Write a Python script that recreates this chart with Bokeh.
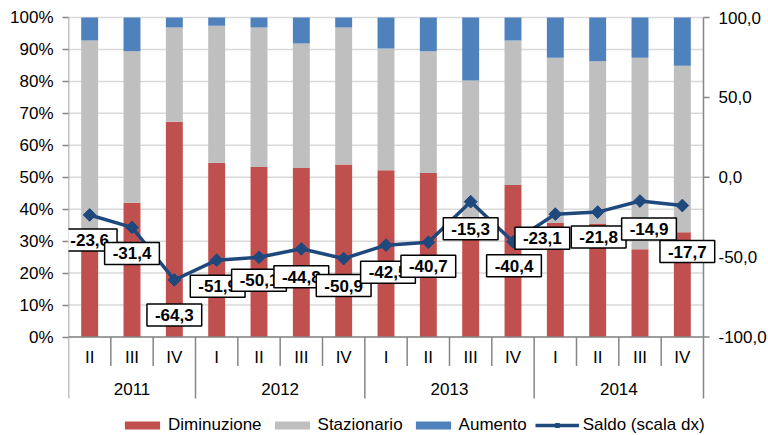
import numpy as np
from bokeh.plotting import figure
from bokeh.models import (ColumnDataSource, Range1d, FixedTicker, Legend, LegendItem, Label)
from bokeh.core.properties import value
from bokeh.embed import file_html
from bokeh.resources import INLINE

# ---------------- data ----------------
years = ["2011", "2012", "2013", "2014"]
year_of = ["2011"] * 3 + ["2012"] * 4 + ["2013"] * 4 + ["2014"] * 4
quarters = ["II", "III", "IV", "I", "II", "III", "IV", "I", "II", "III", "IV", "I", "II", "III", "IV"]
diminuzione = [30.8, 42.0, 67.4, 54.5, 53.2, 52.9, 54.0, 52.2, 51.3, 35.0, 47.6, 35.7, 35.5, 27.5, 32.8]
stazionario = [62.0, 47.4, 29.5, 42.9, 43.7, 39.0, 42.9, 38.1, 38.1, 45.3, 45.2, 51.7, 50.8, 59.9, 52.1]
aumento = [7.2, 10.6, 3.1, 2.6, 3.1, 8.1, 3.1, 9.7, 10.6, 19.7, 7.2, 12.6, 13.7, 12.6, 15.1]
saldo = [-23.6, -31.4, -64.3, -51.9, -50.1, -44.8, -50.9, -42.5, -40.7, -15.3, -40.4, -23.1, -21.8, -14.9, -17.7]
left_ticks = [0, 10, 20, 30, 40, 50, 60, 70, 80, 90, 100]
right_ticks = [-100, -50, 0, 50, 100]

# label nudges (screen px, as placed in the original; dy positive = downward)
label_dx = [0, 0, 0, 1, 0, 0, 0, 2, 0, 0, 1, -13, 1, 9, 5]
label_dy = [25, 26, 35, 26, 23, 28, 27, 27, 24, 27, 24, 24, 25, 28, 46]

# ---------------- style ----------------
FONT = "Liberation Sans"
RED, GRAY, BLUE, NAVY = "#C0504D", "#BFBFBF", "#4F81BD", "#1F497D"
AXIS = "#868686"
GRID = "#D9D9D9"
FS = "17px"

def fmt_it(v):
    return f"{v:.1f}".replace(".", ",")

n = len(quarters)
xs = np.arange(n) + 0.5

W, H = 768, 435
TOP, LEFT = 17, 68
PLOT_W = 635                        # pixel width of the category area
PX_X = PLOT_W / n
X_END = (W - LEFT) / PX_X           # frame runs to the right edge
PLOT_PX = 319.5                     # pixel height of 0..100 %
PX_PER = PLOT_PX / 100.0
Y_TOP = 100 + TOP / PX_PER          # frame runs to the top edge
Y_BOTTOM = -(H - TOP - PLOT_PX) / PX_PER   # ...and to the bottom edge
px = lambda d: -d / PX_PER           # pixels below the 0 line -> data units

p = figure(width=W, height=H, x_range=Range1d(0, X_END), y_range=Range1d(Y_BOTTOM, Y_TOP),
           output_backend="svg", toolbar_location=None, x_axis_location=None,
           min_border_left=LEFT, min_border_right=0, min_border_top=0, min_border_bottom=0)
p.extra_y_ranges = {"saldo": Range1d(-100 + Y_BOTTOM * 2, -100 + Y_TOP * 2)}
p.outline_line_color = None
p.background_fill_color = "white"
p.border_fill_color = "white"
p.grid.visible = False

# left axis (real axis)
ya = p.yaxis[0]
ya.ticker = FixedTicker(ticks=left_ticks)
ya.major_label_overrides = {t: f"{t}%" for t in left_ticks}
ya.minor_tick_line_color = None
ya.axis_line_color = None
ya.major_tick_line_color = AXIS
ya.major_tick_line_width = 1.5
ya.major_tick_in = 0
ya.major_tick_out = 6
ya.major_label_standoff = 9
ya.major_label_text_font = FONT
ya.major_label_text_font_size = FS
ya.major_label_text_color = "black"

# horizontal gridlines over the category area only
p.segment(x0=[0] * len(left_ticks), y0=left_ticks, x1=[n] * len(left_ticks), y1=left_ticks,
          line_color=GRID, line_width=1.5)

# bars
src = ColumnDataSource(dict(x=xs, diminuzione=diminuzione, stazionario=stazionario, aumento=aumento))
bars = p.vbar_stack(["diminuzione", "stazionario", "aumento"], x="x", width=0.4,
                    color=[RED, GRAY, BLUE], line_color=None, source=src)

# axis lines + category separators
SEP_Q = px(29)
SEP_Y = px(61.5)
p.segment(x0=[0], y0=[0], x1=[n], y1=[0], line_color=AXIS, line_width=1.5)
year_bounds = [0] + [i for i in range(1, n) if year_of[i] != year_of[i - 1]] + [n]
q_bounds = [b for b in range(1, n) if b not in year_bounds]
p.segment(x0=q_bounds, y0=[0] * len(q_bounds), x1=q_bounds, y1=[SEP_Q] * len(q_bounds),
          line_color=AXIS, line_width=1.5)
p.segment(x0=year_bounds, y0=[0] * len(year_bounds), x1=year_bounds, y1=[SEP_Y] * len(year_bounds),
          line_color=AXIS, line_width=1.5)
p.segment(x0=[0, n], y0=[0, 0], x1=[0, n], y1=[100, 100], line_color=AXIS, line_width=1.5)

# right axis (saldo scale): ticks + labels
TICK = 6 / PX_X
p.segment(x0=[n] * len(right_ticks), y0=right_ticks, x1=[n + TICK] * len(right_ticks), y1=right_ticks,
          y_range_name="saldo", line_color=AXIS, line_width=1.5)
p.text(x=[n] * len(right_ticks), y=right_ticks, text=[fmt_it(t) for t in right_ticks],
       x_offset=15, y_range_name="saldo", text_font=value(FONT), text_font_size=FS,
       text_align="left", text_baseline="middle", text_color="black")

# quarter + year labels
p.text(x=xs, y=[px(20)] * n, text=quarters, text_font=value(FONT), text_font_size=FS,
       text_align="center", text_baseline="middle", text_color="black")
year_x = [np.mean([xs[i] for i in range(n) if year_of[i] == y]) for y in years]
p.text(x=year_x, y=[px(51.5)] * len(years), text=years, text_font=value(FONT), text_font_size=FS,
       text_align="center", text_baseline="middle", text_color="black")

# saldo line
line = p.line(xs, saldo, y_range_name="saldo", line_color=NAVY, line_width=3.5)
pts = p.scatter(xs, saldo, y_range_name="saldo", marker="square", angle=np.pi / 4, size=9,
                color=NAVY)

# data labels
for xv, yv, dx, dy in zip(xs, saldo, label_dx, label_dy):
    p.add_layout(Label(x=float(xv), y=yv, y_range_name="saldo", text=fmt_it(yv),
                       x_offset=dx, y_offset=-dy,
                       text_font=FONT, text_font_size=FS, text_font_style="bold",
                       text_color="black", text_align="center", text_baseline="middle",
                       background_fill_color="white", border_line_color="black",
                       border_line_width=1.5,
                       padding=dict(left=8, right=8, top=5, bottom=5)))

# legend
legend = Legend(items=[
    LegendItem(label="Diminuzione", renderers=[bars[0]]),
    LegendItem(label="Stazionario", renderers=[bars[1]]),
    LegendItem(label="Aumento", renderers=[bars[2]]),
    LegendItem(label="Saldo (scala dx)", renderers=[line, pts]),
], orientation="horizontal", location=(52, 0))
legend.label_text_font = FONT
legend.label_text_font_size = FS
legend.label_text_color = "black"
legend.label_height = 18
legend.glyph_width = 44
legend.glyph_height = 10
legend.label_standoff = 4
legend.spacing = 8
legend.padding = 0
legend.margin = 0
legend.border_line_color = None
legend.background_fill_alpha = 0
p.add_layout(legend, "center")

open("out.html", "w").write(file_html(p, INLINE))
